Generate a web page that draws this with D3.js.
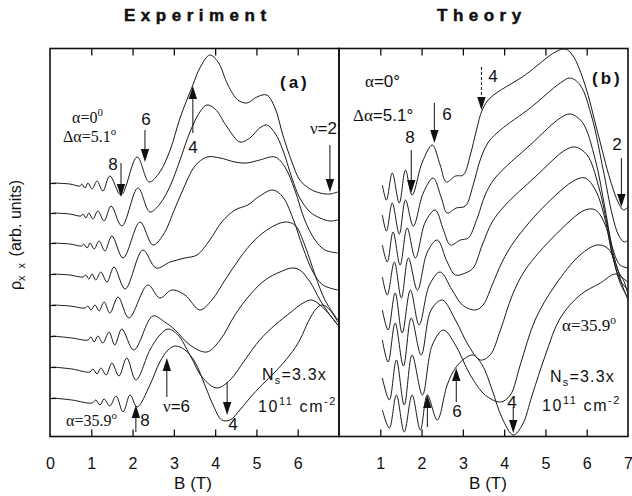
<!DOCTYPE html>
<html><head><meta charset="utf-8">
<script src="https://cdn.jsdelivr.net/npm/d3@7"></script>
<style>body{margin:0;background:#fff}svg{display:block}</style>
</head><body>
<svg id="c" width="632" height="496"></svg>
<script>
// ---------- data ----------
const bTicksExp = [0,1,2,3,4,5,6];
const bTicksTh  = [1,2,3,4,5,6,7];
const tickMarks = [1,2,3,4,5,6];
const curveStarts = [254,224,194,163,132,101,70,39]; // rho offsets (arb. units) of each trace
// Experiment traces [B (T), rho (arb. units)], alpha = 0 ... 35.9 deg
const exp1 = [[0.07,254],[0.48,253],[0.73,251],[0.77,253],[0.85,249],[0.92,254],[1.02,248],[1.14,256],[1.28,246],[1.45,261],[1.72,242],[2.11,280],[2.40,255],[2.66,265],[2.91,287],[3.15,319],[3.46,352],[3.63,369],[3.87,382],[4.07,375],[4.31,352],[4.55,337],[4.77,334],[5.01,340],[5.25,342],[5.45,329],[5.64,302],[5.86,275],[6.05,257],[6.30,248],[6.54,244],[6.78,243],[6.97,245]];
const exp2 = [[0.07,224],[0.48,223],[0.75,221],[0.80,223],[0.87,219],[0.94,224],[1.04,218],[1.16,226],[1.31,216],[1.48,231],[1.74,211],[2.13,249],[2.42,225],[2.66,233],[2.91,251],[3.15,277],[3.39,305],[3.63,325],[3.80,332],[4.00,328],[4.29,310],[4.60,295],[4.84,299],[5.08,309],[5.25,312],[5.45,304],[5.64,287],[5.86,259],[6.05,239],[6.30,225],[6.54,219],[6.78,216],[6.97,217]];
const exp3 = [[0.07,194],[0.48,193],[0.77,191],[0.82,193],[0.90,189],[0.97,194],[1.07,188],[1.19,196],[1.33,186],[1.50,201],[1.77,179],[2.18,215],[2.49,192],[2.74,202],[3.03,229],[3.27,252],[3.51,271],[3.80,280],[4.12,279],[4.48,275],[4.77,274],[5.08,277],[5.45,280],[5.69,270],[5.93,247],[6.17,217],[6.42,197],[6.66,187],[6.97,184]];
const exp4 = [[0.07,163],[0.48,162],[0.80,160],[0.87,162],[0.94,158],[1.02,163],[1.11,157],[1.23,165],[1.38,155],[1.55,170],[1.82,148],[2.25,187],[2.57,169],[2.91,175],[3.27,179],[3.56,182],[3.87,197],[4.16,215],[4.48,227],[4.79,232],[5.08,241],[5.40,247],[5.64,240],[5.88,219],[6.13,189],[6.37,165],[6.61,152],[6.97,147]];
const exp5 = [[0.07,132],[0.48,131],[0.85,129],[0.92,131],[0.99,127],[1.09,132],[1.19,126],[1.31,135],[1.45,124],[1.65,140],[1.91,119],[2.37,152],[2.66,139],[2.95,147],[3.27,142],[3.63,127],[3.92,137],[4.24,157],[4.60,179],[4.96,197],[5.33,209],[5.69,215],[5.93,212],[6.17,192],[6.42,162],[6.66,137],[6.97,117]];
const exp6 = [[0.07,101],[0.53,99],[0.92,97],[0.99,100],[1.07,95],[1.16,101],[1.28,94],[1.43,105],[1.57,92],[1.74,108],[2.03,87],[2.49,121],[2.78,115],[3.03,107],[3.39,92],[3.80,85],[4.12,97],[4.48,122],[4.84,142],[5.21,157],[5.57,165],[5.86,169],[6.05,167],[6.30,155],[6.54,137],[6.78,122],[6.97,112]];
const exp7 = [[0.07,70],[0.53,68],[0.97,65],[1.04,68],[1.14,63],[1.23,69],[1.36,62],[1.50,74],[1.67,61],[1.86,79],[2.08,57],[2.42,87],[2.66,102],[2.86,108],[3.10,102],[3.39,82],[3.70,59],[4.04,49],[4.36,57],[4.72,77],[5.08,97],[5.45,112],[5.81,124],[6.13,134],[6.34,137],[6.54,132],[6.78,122],[6.97,112]];
const exp8 = [[0.07,39],[0.53,37],[1.02,34],[1.11,37],[1.21,32],[1.31,38],[1.45,31],[1.60,41],[1.77,25],[1.94,42],[2.11,30],[2.42,52],[2.66,75],[2.86,87],[3.03,91],[3.27,87],[3.51,75],[3.75,52],[3.95,32],[4.16,17],[4.36,17],[4.60,27],[4.84,39],[5.13,52],[5.45,65],[5.81,82],[6.05,97],[6.30,119],[6.49,130],[6.61,132],[6.78,127],[6.97,115]];
// Theory traces
const th1 = [[1.05,252],[1.15,237],[1.29,264],[1.46,234],[1.61,267],[1.77,242],[2.02,275],[2.26,292],[2.45,272],[2.60,255],[2.82,261],[3.01,262],[3.18,282],[3.33,307],[3.47,327],[3.66,339],[4.51,362],[5.24,385],[5.48,388],[5.67,381],[5.96,352],[6.25,307],[6.57,257],[6.77,234],[6.89,227],[7.00,230]];
const th2 = [[1.05,222],[1.15,206],[1.29,234],[1.46,203],[1.61,237],[1.80,211],[2.04,244],[2.28,259],[2.48,239],[2.62,224],[2.84,229],[3.06,231],[3.25,252],[3.42,277],[3.62,295],[3.91,307],[4.63,329],[5.36,354],[5.60,359],[5.84,352],[6.13,319],[6.40,267],[6.62,222],[6.77,202],[6.91,195],[7.00,197]];
const th3 = [[1.05,192],[1.17,175],[1.31,205],[1.48,172],[1.65,209],[1.85,179],[2.09,215],[2.33,227],[2.53,207],[2.70,192],[2.94,197],[3.13,199],[3.35,219],[3.54,242],[3.78,259],[4.63,292],[5.36,319],[5.60,323],[5.89,315],[6.21,277],[6.45,227],[6.64,187],[6.81,172],[7.00,169]];
const th4 = [[1.05,160],[1.17,142],[1.34,175],[1.51,139],[1.68,179],[1.90,147],[2.14,185],[2.38,197],[2.62,175],[2.82,162],[3.06,164],[3.25,169],[3.47,192],[3.71,215],[4.03,232],[4.75,260],[5.48,287],[5.72,290],[6.01,282],[6.28,252],[6.50,212],[6.67,179],[6.81,162],[7.00,155]];
const th5 = [[1.05,127],[1.19,107],[1.36,144],[1.53,104],[1.73,147],[1.94,112],[2.19,152],[2.45,165],[2.74,147],[2.99,132],[3.30,127],[3.49,132],[3.71,152],[3.95,175],[4.27,197],[5.00,232],[5.72,257],[5.96,259],[6.21,247],[6.45,217],[6.62,182],[6.81,157],[7.00,147]];
const th6 = [[1.05,97],[1.19,75],[1.36,114],[1.56,71],[1.75,119],[1.99,82],[2.23,127],[2.50,137],[2.82,117],[3.13,92],[3.42,77],[3.66,82],[3.91,107],[4.20,142],[4.51,167],[5.24,202],[5.96,227],[6.21,227],[6.45,212],[6.64,179],[6.81,154],[7.00,139]];
const th7 = [[1.05,59],[1.22,37],[1.39,77],[1.58,32],[1.77,82],[2.02,42],[2.26,92],[2.53,107],[2.82,92],[3.18,62],[3.54,42],[3.91,35],[4.15,42],[4.39,72],[4.75,117],[5.24,152],[5.84,182],[6.25,192],[6.50,189],[6.69,175],[6.86,152],[7.00,137]];
const th8 = [[1.05,27],[1.22,9],[1.39,42],[1.58,5],[1.77,42],[1.97,7],[2.14,42],[2.38,17],[2.62,52],[2.82,69],[3.06,79],[3.25,82],[3.47,72],[3.71,47],[3.95,19],[4.22,2],[4.44,12],[4.68,42],[5.00,82],[5.36,119],[5.84,142],[6.33,154],[6.69,163],[6.86,159],[7.00,142]];
const expCurves = [exp1,exp2,exp3,exp4,exp5,exp6,exp7,exp8];
const thCurves  = [th1,th2,th3,th4,th5,th6,th7,th8];
// annotation arrows: [B, rho tail, rho head]
const expArrows = [[2.30,307,275],[1.72,274,240],[3.46,304,351],[6.78,292,245],[2.83,40,79],[4.29,55,22],[2.08,5,32]];
const thArrows  = [[2.31,334,294],[1.75,287,244],[6.84,279,230],[4.22,30,4],[2.84,35,69],[2.14,10,42]];
const thDotted  = [[3.45,370,327]];

// ---------- layout ----------
const svg = d3.select("#c");
const T = 48.5, Bt = 436.5;
const xE = d3.scaleLinear().domain([0,7]).range([50,339]);
const xT = d3.scaleLinear().domain([0,7]).range([339,628]);
const y = d3.scaleLinear().domain([0,389]).range([437,48]);
const SANS = "'Liberation Sans', Arial, Helvetica, sans-serif";
const SERIF = "'Liberation Serif', 'Times New Roman', serif";
const ink = "#111";

function panel(x, ticksLab){
  const g = svg.append("g");
  g.append("g").attr("transform",`translate(0,${Bt})`)
    .call(d3.axisBottom(x).tickValues(tickMarks).tickSize(-7).tickFormat(""))
    .call(s=>{s.select(".domain").remove(); s.selectAll("line").attr("stroke",ink).attr("stroke-width",1.3);});
  g.append("g").attr("transform",`translate(0,${T})`)
    .call(d3.axisTop(x).tickValues(tickMarks).tickSize(-7).tickFormat(""))
    .call(s=>{s.select(".domain").remove(); s.selectAll("line").attr("stroke",ink).attr("stroke-width",1.3);});
  g.append("g").attr("transform",`translate(0,${Bt})`)
    .call(d3.axisBottom(x).tickValues(ticksLab).tickSize(0).tickPadding(21).tickFormat(d3.format("d")))
    .call(s=>{s.select(".domain").remove(); s.selectAll("text").attr("font-family",SANS).attr("font-size",16).attr("fill",ink);});
  g.append("rect").attr("x",x(0)).attr("y",T).attr("width",x(7)-x(0)).attr("height",Bt-T)
    .attr("fill","none").attr("stroke",ink).attr("stroke-width",1.6);
  return g;
}
panel(xE,bTicksExp);
panel(xT,bTicksTh);
// left y ticks
svg.append("g").attr("transform",`translate(${xE(0)},0)`)
  .call(d3.axisLeft(y).tickValues(curveStarts).tickSize(-6).tickFormat(""))
  .call(s=>{s.select(".domain").remove(); s.selectAll("line").attr("stroke",ink).attr("stroke-width",1.2);});

function traces(curves,x){
  const line = d3.line().x(d=>x(d[0])).y(d=>y(d[1])).curve(d3.curveCatmullRom.alpha(0.5));
  svg.append("g").selectAll("path").data(curves).join("path")
    .attr("d",line).attr("fill","none").attr("stroke","#1a1a1a").attr("stroke-width",1.0);
}
traces(expCurves,xE);
traces(thCurves,xT);

function arrows(list,x,dash){
  const g = svg.append("g");
  list.forEach(([b,r0,r1])=>{
    const X = x(b), y0 = y(r0), y1 = y(r1), dir = Math.sign(y1-y0), L = 13, w = 4.2;
    g.append("line").attr("x1",X).attr("x2",X).attr("y1",y0).attr("y2",y1-dir*L*0.6)
      .attr("stroke",ink).attr("stroke-width",1).attr("stroke-dasharray",dash?"3,2":null);
    g.append("path").attr("d",`M${X},${y1} L${X-w},${y1-dir*L} L${X+w},${y1-dir*L} Z`).attr("fill",ink);
  });
}
arrows(expArrows,xE,false);
arrows(thArrows,xT,false);
arrows(thDotted,xT,true);

// rich text helper: parts = [text, font, kind]
function rich(x,yy,parts,size,anchor,ls){
  const t = svg.append("text").attr("x",x).attr("y",yy).attr("font-size",size)
    .attr("text-anchor",anchor||"start").attr("fill",ink).attr("letter-spacing",ls||0);
  let shift = 0;
  parts.forEach(([s,f,k])=>{
    let target = 0, fs = size;
    if(k==="sup"){target=-size*0.42; fs=size*0.68;}
    if(k==="sub"){target=size*0.28; fs=size*0.68;}
    t.append("tspan").attr("font-family",f==="serif"?SERIF:SANS).attr("font-size",fs)
      .attr("dy",target-shift).text(s);
    shift = target;
  });
  return t;
}
// titles
function title(x,txt){
  svg.append("text").attr("x",x).attr("y",21).attr("font-family",SANS).attr("font-weight","bold")
    .attr("font-size",17).attr("letter-spacing",5.5).attr("fill",ink)
    .attr("stroke",ink).attr("stroke-width",0.5).text(txt);
}
title(124,"Experiment");
title(437,"Theory");
svg.append("text").attr("x",280).attr("y",88).attr("font-family",SANS).attr("font-weight","bold")
  .attr("font-size",17).attr("letter-spacing",3).attr("fill",ink).text("(a)");
svg.append("text").attr("x",592).attr("y",84).attr("font-family",SANS).attr("font-weight","bold")
  .attr("font-size",17).attr("letter-spacing",3).attr("fill",ink).text("(b)");
// axis titles
rich(193,489,[["B (T)","sans"]],17,"middle");
rich(488,489,[["B (T)","sans"]],17,"middle");
const yl = svg.append("g").attr("transform","translate(21,235) rotate(-90)");
{
  const t = yl.append("text").attr("text-anchor","middle").attr("font-size",16).attr("fill",ink).attr("font-family",SANS);
  t.append("tspan").text("ρ");
  t.append("tspan").attr("font-size",11).attr("dy",4).attr("letter-spacing",2).text("x x");
  t.append("tspan").attr("dy",-4).text(" (arb. units)");
}
// left annotations
rich(72,123,[["α=0","serif"],["0","serif","sup"]],16);
rich(63,142,[["Δα=5.1","serif"],["o","serif","sup"]],16);
rich(146,125,[["6","sans"]],17,"middle");
rich(113,170,[["8","sans"]],17,"middle");
rich(193,153,[["4","sans"]],17,"middle");
rich(337,134,[["ν","serif"],["=2","sans"]],17,"end");
rich(163,412,[["ν","serif"],["=6","sans"]],17);
rich(233,430,[["4","sans"]],17,"middle");
rich(145,426,[["8","sans"]],17,"middle");
rich(66,426,[["α=35.9","serif"],["o","serif","sup"]],16);
rich(262,380,[["N","sans"],["s","sans","sub"],["=3.3x","sans"]],16,"start",1.2);
rich(258,412,[["10","sans"],["11","sans","sup"],[" cm","sans"],["-2","sans","sup"]],16,"start",1.6);
// right annotations
rich(365,87,[["α","serif"],["=0°","sans"]],17);
rich(353,121,[["Δα","serif"],["=5.1°","sans"]],17);
rich(447,120,[["6","sans"]],17,"middle");
rich(410,143,[["8","sans"]],17,"middle");
rich(493,82,[["4","sans"]],17,"middle");
rich(617,150,[["2","sans"]],17,"middle");
rich(512,408,[["4","sans"]],17,"middle");
rich(457,417,[["6","sans"]],17,"middle");
rich(562,331,[["α=35.9","serif"],["o","serif","sup"]],17);
rich(550,382,[["N","sans"],["s","sans","sub"],["=3.3x","sans"]],16,"start",1.2);
rich(542,411,[["10","sans"],["11","sans","sup"],[" cm","sans"],["-2","sans","sup"]],16,"start",1.6);
</script>
</body></html>
